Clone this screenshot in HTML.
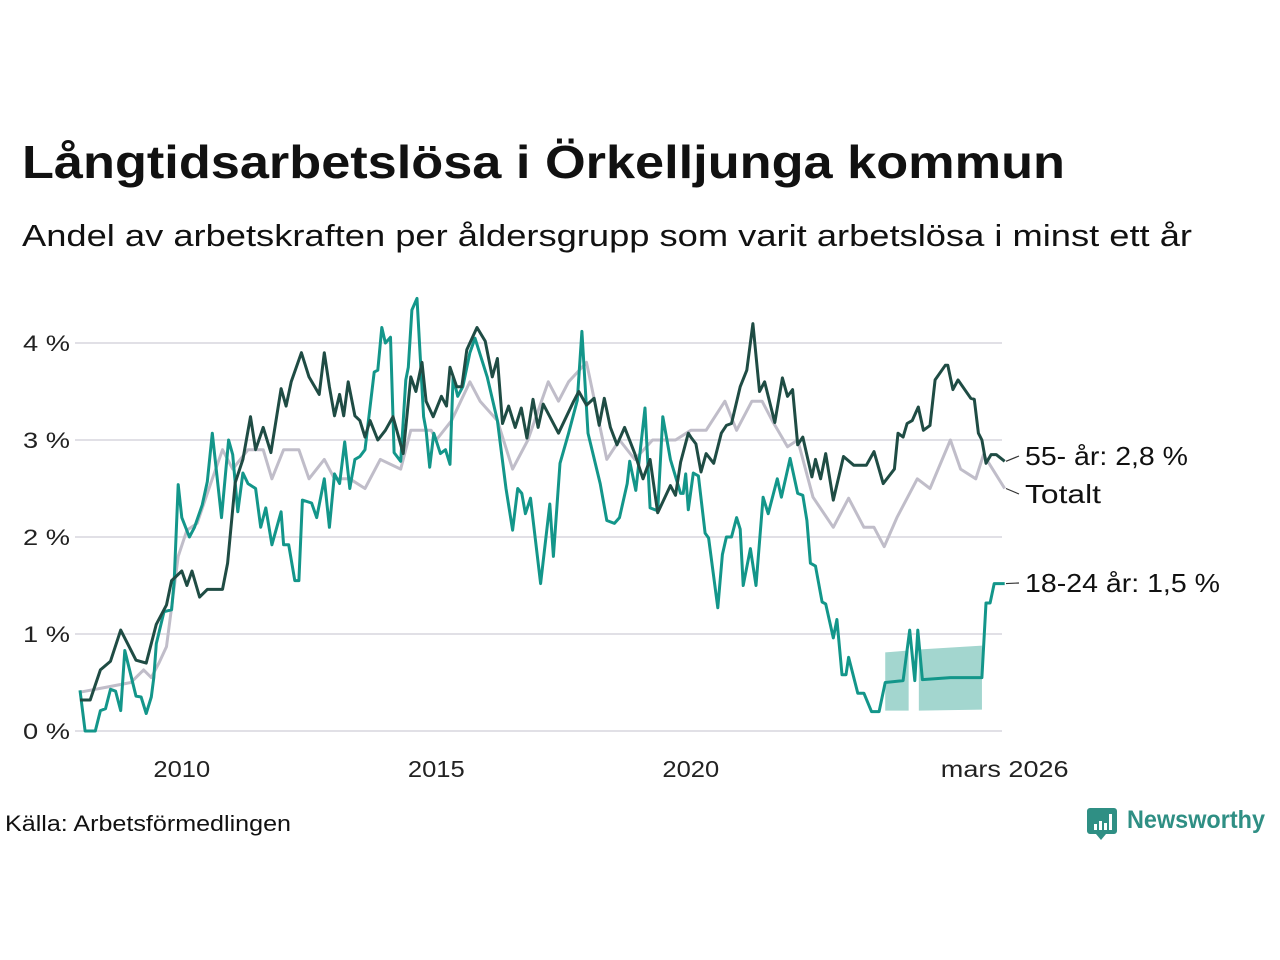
<!DOCTYPE html>
<html><head><meta charset="utf-8"><style>
html,body{margin:0;padding:0;background:#fff;width:1280px;height:960px;overflow:hidden}
svg{display:block;font-family:"Liberation Sans",sans-serif}
</style></head><body>
<svg id="chart" width="1280" height="960" viewBox="0 0 1280 960">
<text x="22" y="178" font-size="46" font-weight="bold" fill="#111" textLength="1043" lengthAdjust="spacingAndGlyphs">Långtidsarbetslösa i Örkelljunga kommun</text>
<text x="22" y="246" font-size="31" fill="#111" textLength="1170" lengthAdjust="spacingAndGlyphs">Andel av arbetskraften per åldersgrupp som varit arbetslösa i minst ett år</text>
<g id="grid"></g>
<g id="yaxis"></g>
<g id="xaxis"></g>
<g id="series"></g>
<g id="labels"></g>
<text x="5" y="831" font-size="22" fill="#111" textLength="286" lengthAdjust="spacingAndGlyphs">Källa: Arbetsförmedlingen</text>
<g>
<path d="M1090 808 h24 a3 3 0 0 1 3 3 v20 a3 3 0 0 1 -3 3 h-8 l-5 6 l-5 -6 h-6 a3 3 0 0 1 -3 -3 v-20 a3 3 0 0 1 3 -3z" fill="#2f8f84"/>
<rect x="1094" y="824" width="3" height="6" fill="#fff"/><rect x="1099" y="821" width="3" height="9" fill="#fff"/><rect x="1104" y="823" width="3" height="7" fill="#fff"/><rect x="1109" y="814" width="3" height="16" fill="#fff"/>
<text x="1127" y="828" font-size="25" font-weight="bold" fill="#2f8f84" textLength="138" lengthAdjust="spacingAndGlyphs">Newsworthy</text>
</g>
</svg>
<script>
// Data (decimal year, percent)
const yTicks = [0,1,2,3,4];
const yTickLabels = ["0 %","1 %","2 %","3 %","4 %"];
const xTicks = [2010,2015,2020,2026.167];
const xTickLabels = ["2010","2015","2020","mars 2026"];

const totalDates = [2008.0,2008.5,2009.0,2009.25,2009.4,2009.55,2009.7,2009.93,2010.1,2010.3,2010.6,2010.8,2011.0,2011.3,2011.6,2011.77,2012.0,2012.3,2012.5,2012.8,2013.0,2013.3,2013.6,2013.9,2014.3,2014.5,2014.9,2015.0,2015.3,2015.66,2015.86,2016.2,2016.5,2016.8,2017.2,2017.4,2017.6,2017.95,2018.35,2018.6,2018.9,2019.25,2019.7,2020.0,2020.3,2020.67,2020.9,2021.2,2021.4,2021.6,2021.9,2022.1,2022.4,2022.8,2023.1,2023.4,2023.6,2023.8,2024.05,2024.45,2024.7,2025.1,2025.3,2025.6,2025.75,2026.167];
const totalValues = [0.4,0.45,0.5,0.63,0.55,0.7,0.87,1.8,2.07,2.14,2.6,2.9,2.7,2.9,2.9,2.6,2.9,2.9,2.6,2.8,2.6,2.6,2.5,2.8,2.7,3.1,3.1,3.0,3.2,3.6,3.4,3.2,2.7,3.0,3.6,3.4,3.6,3.8,2.8,3.0,2.8,3.0,3.0,3.1,3.1,3.4,3.1,3.4,3.4,3.2,2.93,3.0,2.41,2.1,2.4,2.1,2.1,1.9,2.2,2.6,2.5,3.0,2.7,2.6,2.85,2.5];

const olderDates = [2008.0,2008.2,2008.4,2008.6,2008.8,2009.1,2009.3,2009.5,2009.7,2009.8,2010.0,2010.1,2010.2,2010.35,2010.5,2010.8,2010.9,2011.05,2011.2,2011.35,2011.45,2011.6,2011.75,2011.95,2012.05,2012.15,2012.35,2012.5,2012.7,2012.8,2012.9,2013.0,2013.1,2013.18,2013.27,2013.4,2013.5,2013.6,2013.7,2013.85,2014.0,2014.15,2014.35,2014.5,2014.6,2014.72,2014.8,2014.94,2015.1,2015.2,2015.27,2015.4,2015.5,2015.6,2015.8,2015.96,2016.1,2016.2,2016.3,2016.42,2016.55,2016.67,2016.78,2016.9,2017.0,2017.1,2017.4,2017.7,2017.8,2017.95,2018.1,2018.2,2018.3,2018.42,2018.55,2018.7,2018.9,2019.06,2019.2,2019.35,2019.6,2019.7,2019.8,2019.95,2020.0,2020.1,2020.2,2020.3,2020.45,2020.6,2020.7,2020.8,2020.97,2021.1,2021.22,2021.35,2021.45,2021.65,2021.8,2021.9,2022.0,2022.1,2022.2,2022.38,2022.45,2022.55,2022.65,2022.8,2023.0,2023.2,2023.45,2023.6,2023.78,2024.0,2024.07,2024.17,2024.25,2024.35,2024.47,2024.57,2024.7,2024.8,2025.0,2025.05,2025.15,2025.25,2025.5,2025.57,2025.65,2025.72,2025.8,2025.9,2026.0,2026.167];
const olderValues = [0.32,0.32,0.63,0.72,1.04,0.73,0.7,1.1,1.3,1.55,1.65,1.5,1.65,1.38,1.46,1.46,1.73,2.56,2.8,3.24,2.9,3.13,2.87,3.53,3.35,3.6,3.9,3.65,3.47,3.9,3.55,3.25,3.47,3.25,3.6,3.25,3.2,3.03,3.2,3.0,3.1,3.24,2.86,3.65,3.5,3.8,3.4,3.24,3.45,3.35,3.75,3.55,3.55,3.93,4.16,4.02,3.65,3.84,3.17,3.35,3.13,3.33,3.02,3.42,3.13,3.37,3.07,3.4,3.5,3.36,3.43,3.15,3.43,3.13,2.95,3.13,2.86,2.6,2.8,2.25,2.53,2.43,2.77,3.07,3.03,2.96,2.67,2.86,2.76,3.07,3.15,3.17,3.55,3.72,4.2,3.5,3.6,3.18,3.64,3.45,3.52,2.95,3.03,2.62,2.8,2.6,2.86,2.38,2.83,2.74,2.74,2.88,2.55,2.7,3.07,3.03,3.17,3.2,3.34,3.1,3.15,3.62,3.77,3.77,3.52,3.62,3.43,3.42,3.07,3.0,2.76,2.85,2.85,2.78];

const youngDates = [2008.0,2008.1,2008.3,2008.4,2008.5,2008.6,2008.7,2008.8,2008.88,2009.1,2009.2,2009.3,2009.4,2009.45,2009.5,2009.65,2009.8,2009.85,2009.93,2010.0,2010.15,2010.25,2010.4,2010.5,2010.6,2010.78,2010.92,2011.0,2011.1,2011.2,2011.3,2011.45,2011.55,2011.65,2011.77,2011.95,2012.0,2012.1,2012.22,2012.3,2012.37,2012.55,2012.65,2012.8,2012.9,2013.0,2013.1,2013.2,2013.3,2013.4,2013.5,2013.6,2013.78,2013.85,2013.93,2014.0,2014.1,2014.17,2014.3,2014.4,2014.45,2014.52,2014.62,2014.75,2014.8,2014.87,2014.95,2015.08,2015.18,2015.27,2015.33,2015.42,2015.52,2015.66,2015.76,2016.0,2016.2,2016.37,2016.5,2016.6,2016.68,2016.75,2016.85,2017.05,2017.23,2017.3,2017.43,2017.6,2017.77,2017.86,2017.98,2018.22,2018.35,2018.5,2018.6,2018.75,2018.8,2018.92,2019.1,2019.2,2019.35,2019.45,2019.6,2019.8,2019.85,2019.9,2019.95,2020.05,2020.15,2020.28,2020.35,2020.53,2020.62,2020.7,2020.8,2020.9,2020.97,2021.03,2021.17,2021.28,2021.42,2021.52,2021.7,2021.78,2021.95,2022.1,2022.2,2022.28,2022.35,2022.45,2022.58,2022.65,2022.8,2022.87,2022.97,2023.05,2023.1,2023.28,2023.4,2023.55,2023.7,2023.82,2024.17,2024.3,2024.4,2024.46,2024.55,2025.1,2025.72,2025.8,2025.88,2025.96,2026.167];
const youngValues = [0.42,0.0,0.0,0.21,0.23,0.43,0.41,0.21,0.83,0.36,0.35,0.18,0.35,0.55,0.9,1.23,1.25,1.55,2.54,2.2,2.0,2.1,2.33,2.57,3.07,2.2,3.0,2.85,2.26,2.66,2.55,2.5,2.1,2.3,1.92,2.26,1.92,1.92,1.55,1.55,2.38,2.35,2.2,2.6,2.1,2.65,2.55,2.98,2.5,2.8,2.83,2.9,3.7,3.72,4.16,4.0,4.06,2.87,2.78,3.62,3.75,4.34,4.46,3.24,3.1,2.72,3.07,2.86,2.9,2.75,3.65,3.45,3.55,3.9,4.05,3.65,3.2,2.5,2.07,2.5,2.45,2.24,2.4,1.52,2.34,1.8,2.76,3.07,3.41,4.12,3.07,2.55,2.17,2.14,2.2,2.55,2.78,2.48,3.33,2.3,2.27,3.24,2.8,2.45,2.45,2.65,2.28,2.66,2.63,2.04,1.99,1.27,1.82,2.0,2.0,2.2,2.08,1.5,1.88,1.5,2.41,2.24,2.6,2.41,2.81,2.45,2.43,2.17,1.73,1.7,1.33,1.31,0.96,1.15,0.58,0.58,0.76,0.39,0.39,0.2,0.2,0.5,0.52,1.04,0.52,1.04,0.53,0.55,0.55,1.32,1.32,1.52,1.52];

const bandDates = [2023.82,2024.28,2024.48,2025.72];
const bandUpper = [0.81,0.83,0.84,0.88];
const bandLower = [0.21,0.21,0.21,0.22];

const NS = "http://www.w3.org/2000/svg";
function xs(d){ return 80 + (d - 2008) * 50.9; }
function ys(v){ return 731 - v * 97; }
function mk(tag, attrs, parent){ const e = document.createElementNS(NS, tag); for (const k in attrs) e.setAttribute(k, attrs[k]); parent.appendChild(e); return e; }

const grid = document.getElementById('grid');
const yaxis = document.getElementById('yaxis');
yTicks.forEach((t,i)=>{
  const l = mk('line',{x1:75,x2:1002,y1:ys(t),y2:ys(t),stroke:'#e1e0e6','stroke-width':2},grid);
  
  
  const tx = mk('text',{x:70,y:ys(t)+8,'text-anchor':'end','font-size':22,fill:'#222',textLength:47,lengthAdjust:'spacingAndGlyphs'},yaxis);
  
  
  tx.textContent = yTickLabels[i];
});
const xaxis = document.getElementById('xaxis');
xTicks.forEach((t,i)=>{
  const tx = mk('text',{x:xs(t),y:777,'text-anchor':'middle','font-size':23,fill:'#222',textLength:xTickLabels[i].length*14.2,lengthAdjust:'spacingAndGlyphs'},xaxis);
  
  
  tx.textContent = xTickLabels[i];
});

const series = document.getElementById('series');
[[0,1],[2,3]].forEach(([a,b])=>{
  const pts = [];
  for (let i=a;i<=b;i++) pts.push(xs(bandDates[i])+','+ys(bandUpper[i]));
  for (let i=b;i>=a;i--) pts.push(xs(bandDates[i])+','+ys(bandLower[i]));
  const p = mk('polygon',{points:pts.join(' '),fill:'#a3d6cf'},series);
  
  
});
function line(dates, vals, color, name){
  const d = dates.map((t,i)=>(i?'L':'M')+xs(t).toFixed(1)+' '+ys(vals[i]).toFixed(1)).join(' ');
  const p = mk('path',{d:d,fill:'none',stroke:color,'stroke-width':3,'stroke-linejoin':'round'},series);
  
  
}
line(totalDates,totalValues,'#c0bdc9','line-totalt');
line(youngDates,youngValues,'#13968a','line-18-24');
line(olderDates,olderValues,'#1f4c44','line-55-plus');

const labels = document.getElementById('labels');
const lastO = olderValues[olderValues.length-1], lastT = totalValues[totalValues.length-1], lastY = youngValues[youngValues.length-1];
const lab = [
  {y0:ys(lastO), y1:456, text:'55- år: 2,8 %', w:163, name:'label-55-plus'},
  {y0:ys(lastT), y1:494, text:'Totalt', w:76, name:'label-totalt'},
  {y0:ys(lastY), y1:583, text:'18-24 år: 1,5 %', w:195, name:'label-18-24'}
];
lab.forEach(o=>{
  const l = mk('line',{x1:1006,y1:o.y0,x2:1019,y2:o.y1,stroke:'#333','stroke-width':1.2},labels);
  
  
  const t = mk('text',{x:1025,y:o.y1+9,'font-size':26,fill:'#111',textLength:o.w,lengthAdjust:'spacingAndGlyphs'},labels);
  
  
  t.textContent = o.text;
});
</script>
</body></html>
